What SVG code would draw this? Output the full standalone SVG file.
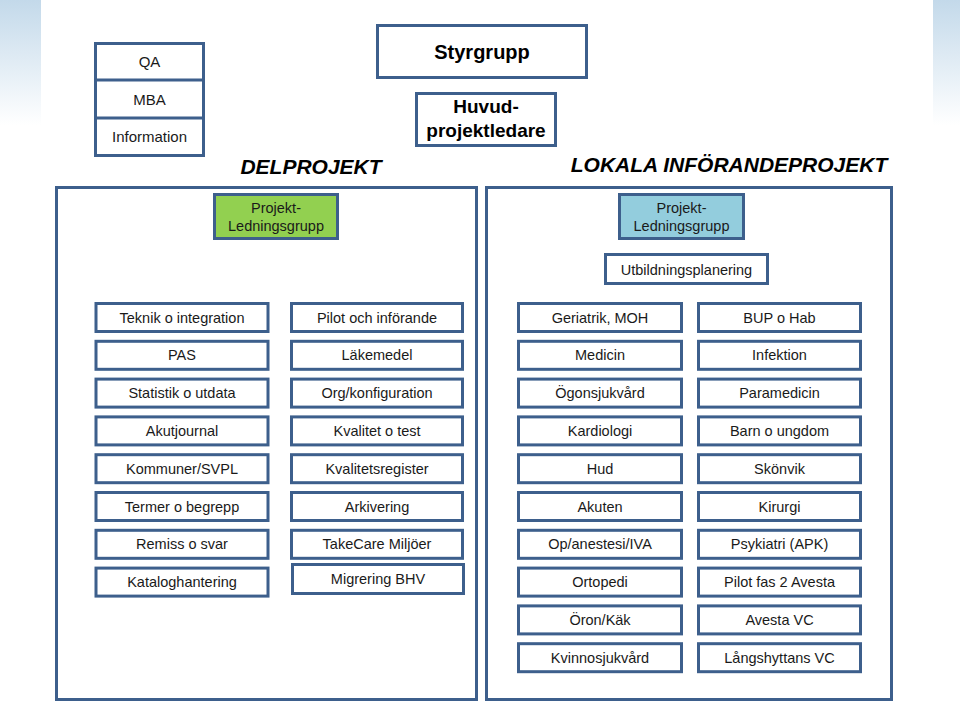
<svg xmlns="http://www.w3.org/2000/svg" width="960" height="707" viewBox="0 0 960 707">
<defs>
<linearGradient id="strip" x1="0" y1="0" x2="0" y2="1">
<stop offset="0" stop-color="#C3D9EA"/>
<stop offset="1" stop-color="#FFFFFF"/>
</linearGradient>
<style>
.b{fill:#FFFFFF;stroke:#3D5F8C;stroke-width:3}
.t{font-family:"Liberation Sans",Arial,sans-serif;font-size:14.5px;fill:#1A1A1A;text-anchor:middle}
.h{font-family:"Liberation Sans",Arial,sans-serif;font-weight:bold;font-style:italic;font-size:21px;fill:#000;text-anchor:middle}
.s{font-family:"Liberation Sans",Arial,sans-serif;font-weight:bold;fill:#000;text-anchor:middle}
</style>
</defs>
<rect width="960" height="707" fill="#FFFFFF"/>
<rect x="0" y="0" width="41" height="125" fill="url(#strip)"/>
<rect x="933" y="0" width="27" height="125" fill="url(#strip)"/>

<g id="qa-stack">
<rect class="b" x="95.5" y="43.5" width="108" height="112"/>
<line x1="95.5" y1="80" x2="203.5" y2="80" stroke="#3D5F8C" stroke-width="3"/>
<line x1="95.5" y1="118" x2="203.5" y2="118" stroke="#3D5F8C" stroke-width="3"/>
<text class="t" x="149.5" y="67" style="font-size:15px">QA</text>
<text class="t" x="149.5" y="105" style="font-size:15px">MBA</text>
<text class="t" x="149.5" y="142" style="font-size:15px">Information</text>
</g>

<g id="styrgrupp">
<rect class="b" x="377.5" y="25.5" width="209" height="52"/>
<text class="s" x="482" y="59" style="font-size:20px">Styrgrupp</text>
</g>
<g id="huvudprojektledare">
<rect class="b" x="416.5" y="93.5" width="139" height="52"/>
<text class="s" x="486" y="113" style="font-size:19px">Huvud-</text>
<text class="s" x="486" y="137" style="font-size:19px">projektledare</text>
</g>

<text class="h" x="311" y="174">DELPROJEKT</text>
<text class="h" x="729" y="172">LOKALA INFÖRANDEPROJEKT</text>

<g id="delprojekt-frame">
<rect class="b" x="56.5" y="187.5" width="420" height="512"/>
</g>
<g id="lokala-frame">
<rect class="b" x="486.5" y="187.5" width="405" height="512"/>
</g>

<g id="pl-green">
<rect class="b" x="214.5" y="194.5" width="123" height="44" style="fill:#92D050"/>
<text class="t" x="276" y="213">Projekt-</text>
<text class="t" x="276" y="231">Ledningsgrupp</text>
</g>
<g id="pl-blue">
<rect class="b" x="619.5" y="194.5" width="124" height="44" style="fill:#93CDDD"/>
<text class="t" x="681.5" y="213">Projekt-</text>
<text class="t" x="681.5" y="231">Ledningsgrupp</text>
</g>
<g id="utbildningsplanering">
<rect class="b" x="605.5" y="254.5" width="162" height="29"/>
<text class="t" x="686.5" y="274.5">Utbildningsplanering</text>
</g>

<g id="col1">
<g id="teknik"><rect class="b" x="96" y="303.5" width="172" height="28"/><text class="t" x="182" y="322.5">Teknik o integration</text></g>
<g id="pas"><rect class="b" x="96" y="341.3" width="172" height="28"/><text class="t" x="182" y="360.3">PAS</text></g>
<g id="statistik"><rect class="b" x="96" y="379.1" width="172" height="28"/><text class="t" x="182" y="398.1">Statistik o utdata</text></g>
<g id="akutjournal"><rect class="b" x="96" y="416.9" width="172" height="28"/><text class="t" x="182" y="435.9">Akutjournal</text></g>
<g id="kommuner"><rect class="b" x="96" y="454.7" width="172" height="28"/><text class="t" x="182" y="473.7">Kommuner/SVPL</text></g>
<g id="termer"><rect class="b" x="96" y="492.5" width="172" height="28"/><text class="t" x="182" y="511.5">Termer o begrepp</text></g>
<g id="remiss"><rect class="b" x="96" y="530.3" width="172" height="28"/><text class="t" x="182" y="549.3">Remiss o svar</text></g>
<g id="katalog"><rect class="b" x="96" y="568.1" width="172" height="28"/><text class="t" x="182" y="587.1">Kataloghantering</text></g>
</g>

<g id="col2">
<g id="pilot"><rect class="b" x="291.5" y="303.5" width="171" height="28"/><text class="t" x="377" y="322.5">Pilot och införande</text></g>
<g id="lakemedel"><rect class="b" x="291.5" y="341.3" width="171" height="28"/><text class="t" x="377" y="360.3">Läkemedel</text></g>
<g id="org"><rect class="b" x="291.5" y="379.1" width="171" height="28"/><text class="t" x="377" y="398.1">Org/konfiguration</text></g>
<g id="kvalitet"><rect class="b" x="291.5" y="416.9" width="171" height="28"/><text class="t" x="377" y="435.9">Kvalitet o test</text></g>
<g id="kvalitetsregister"><rect class="b" x="291.5" y="454.7" width="171" height="28"/><text class="t" x="377" y="473.7">Kvalitetsregister</text></g>
<g id="arkivering"><rect class="b" x="291.5" y="492.5" width="171" height="28"/><text class="t" x="377" y="511.5">Arkivering</text></g>
<g id="takecare"><rect class="b" x="291.5" y="530.3" width="171" height="28"/><text class="t" x="377" y="549.3">TakeCare Miljöer</text></g>
<g id="migrering"><rect class="b" x="292.5" y="564.5" width="171" height="29"/><text class="t" x="378" y="583.5">Migrering BHV</text></g>
</g>

<g id="col3">
<g id="geriatrik"><rect class="b" x="518.5" y="303.5" width="163" height="28"/><text class="t" x="600" y="322.5">Geriatrik, MOH</text></g>
<g id="medicin"><rect class="b" x="518.5" y="341.3" width="163" height="28"/><text class="t" x="600" y="360.3">Medicin</text></g>
<g id="ogon"><rect class="b" x="518.5" y="379.1" width="163" height="28"/><text class="t" x="600" y="398.1">Ögonsjukvård</text></g>
<g id="kardiologi"><rect class="b" x="518.5" y="416.9" width="163" height="28"/><text class="t" x="600" y="435.9">Kardiologi</text></g>
<g id="hud"><rect class="b" x="518.5" y="454.7" width="163" height="28"/><text class="t" x="600" y="473.7">Hud</text></g>
<g id="akuten"><rect class="b" x="518.5" y="492.5" width="163" height="28"/><text class="t" x="600" y="511.5">Akuten</text></g>
<g id="op"><rect class="b" x="518.5" y="530.3" width="163" height="28"/><text class="t" x="600" y="549.3">Op/anestesi/IVA</text></g>
<g id="ortopedi"><rect class="b" x="518.5" y="568.1" width="163" height="28"/><text class="t" x="600" y="587.1">Ortopedi</text></g>
<g id="oron"><rect class="b" x="518.5" y="605.9" width="163" height="28"/><text class="t" x="600" y="624.9">Öron/Käk</text></g>
<g id="kvinno"><rect class="b" x="518.5" y="643.7" width="163" height="28"/><text class="t" x="600" y="662.7">Kvinnosjukvård</text></g>
</g>

<g id="col4">
<g id="bup"><rect class="b" x="698.5" y="303.5" width="162" height="28"/><text class="t" x="779.5" y="322.5">BUP o Hab</text></g>
<g id="infektion"><rect class="b" x="698.5" y="341.3" width="162" height="28"/><text class="t" x="779.5" y="360.3">Infektion</text></g>
<g id="paramedicin"><rect class="b" x="698.5" y="379.1" width="162" height="28"/><text class="t" x="779.5" y="398.1">Paramedicin</text></g>
<g id="barn"><rect class="b" x="698.5" y="416.9" width="162" height="28"/><text class="t" x="779.5" y="435.9">Barn o ungdom</text></g>
<g id="skonvik"><rect class="b" x="698.5" y="454.7" width="162" height="28"/><text class="t" x="779.5" y="473.7">Skönvik</text></g>
<g id="kirurgi"><rect class="b" x="698.5" y="492.5" width="162" height="28"/><text class="t" x="779.5" y="511.5">Kirurgi</text></g>
<g id="psykiatri"><rect class="b" x="698.5" y="530.3" width="162" height="28"/><text class="t" x="779.5" y="549.3">Psykiatri (APK)</text></g>
<g id="pilotfas2"><rect class="b" x="698.5" y="568.1" width="162" height="28"/><text class="t" x="779.5" y="587.1">Pilot fas 2 Avesta</text></g>
<g id="avestavc"><rect class="b" x="698.5" y="605.9" width="162" height="28"/><text class="t" x="779.5" y="624.9">Avesta VC</text></g>
<g id="langshyttan"><rect class="b" x="698.5" y="643.7" width="162" height="28"/><text class="t" x="779.5" y="662.7">Långshyttans VC</text></g>
</g>

<g id="connectors"></g>
</svg>
